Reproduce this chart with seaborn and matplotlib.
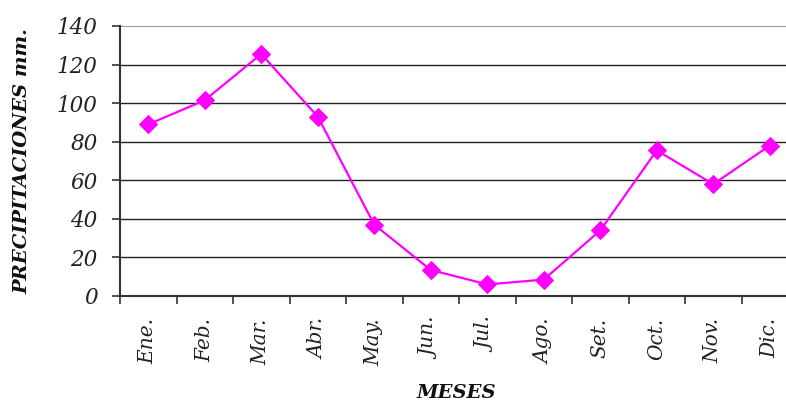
import numpy as np
import pandas as pd
import seaborn as sns
import matplotlib.pyplot as plt

# data
meses = ["Ene.", "Feb.", "Mar.", "Abr.", "May.", "Jun.",
         "Jul.", "Ago.", "Set.", "Oct.", "Nov.", "Dic."]
precipitaciones = [89, 101.5, 125.5, 93, 37, 13.5, 6, 8.5, 34, 75.5, 58, 78]
y_ticks = [0, 20, 40, 60, 80, 100, 120, 140]

df = pd.DataFrame({"mes": np.arange(len(meses)), "pp": precipitaciones})

sns.set_style("white")
plt.rcParams["font.family"] = ["DejaVu Serif"]

fig = plt.figure(figsize=(7.86, 4.01), dpi=100)
ax = fig.add_axes([120 / 786, 1 - 296 / 401, 678 / 786, 270 / 401])

sns.lineplot(data=df, x="mes", y="pp", ax=ax, color="#FF00FF",
             marker="D", markersize=9, markeredgecolor="#FF00FF",
             linewidth=1.6, sort=False)

ax.set_xlim(-0.5, 11.5)
ax.set_ylim(0, 140)

# y axis
ax.set_yticks(y_ticks)
ax.set_yticklabels([str(v) for v in y_ticks], fontsize=15.5, style="italic",
                   color="#222222")
ax.tick_params(axis="y", direction="out", length=6, width=1.2,
               color="#333333", pad=10, left=True)
ax.yaxis.grid(True, color="#222222", linewidth=1.0)
ax.get_ygridlines()[-1].set_color("#999999")
ax.get_ygridlines()[-1].set_linewidth(1.5)

# x axis: ticks on category boundaries, labels at the centres
ax.set_xticks(np.arange(-0.5, 12, 1))
ax.set_xticklabels([])
ax.tick_params(axis="x", which="major", direction="out", length=6,
               width=1.2, color="#333333", bottom=True)
ax.set_xticks(np.arange(len(meses)), minor=True)
ax.set_xticklabels(meses, minor=True, rotation=90, fontsize=14.5,
                   style="italic", color="#222222")
ax.tick_params(axis="x", which="minor", length=0, pad=16)

for side in ["top", "right"]:
    ax.spines[side].set_visible(False)
for side in ["left", "bottom"]:
    ax.spines[side].set_color("#333333")
    ax.spines[side].set_linewidth(1.5)

ax.set_xlabel("")
ax.set_ylabel("")
fig.text(456 / 786, 1 - 393 / 401, "MESES", ha="center", va="center",
         fontsize=14, weight="bold", style="italic", color="#111111")
fig.text(22 / 786, 1 - 161 / 401, "PRECIPITACIONES mm.", ha="center",
         va="center", rotation=90, fontsize=14, weight="bold",
         style="italic", color="#111111")

fig.savefig("out.png", dpi=100)
